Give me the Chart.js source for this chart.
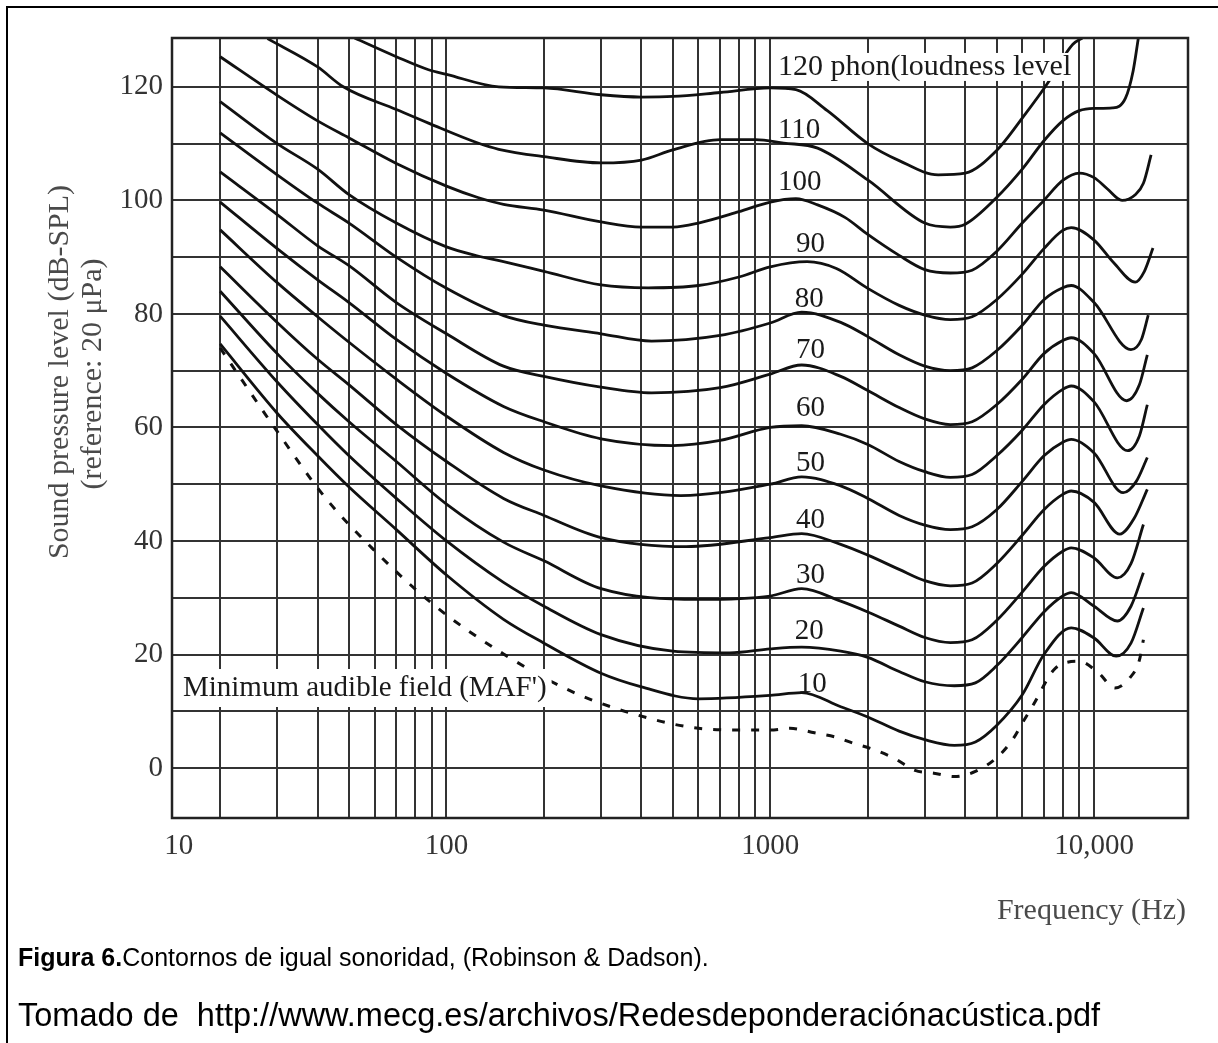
<!doctype html>
<html lang="es">
<head>
<meta charset="utf-8">
<style>
    html, body { margin: 0; padding: 0; background: #fff; }
    #wrap { position: relative; width: 1218px; height: 1043px; overflow: hidden; background: #fff; }
    #frame { position: absolute; left: 6px; top: 6px; width: 1300px; height: 1100px; border-left: 2px solid #000; border-top: 2px solid #000; }
    #myChart { position: absolute; left: 0; top: 0; }
    .cap { position: absolute; left: 18px; font-family: "Liberation Sans", Arial, sans-serif; color: #000; white-space: nowrap; line-height: 1.15; }
</style>
</head>
<body>
<div id="wrap">
    <div id="frame"></div>
    <canvas id="myChart" width="1218" height="1043"></canvas>
    <div class="cap" style="top:943px; font-size:25px"><b>Figura 6.</b>Contornos de igual sonoridad, (Robinson &amp; Dadson).</div>
    <div class="cap" style="top:997px; font-size:32.5px">Tomado de&nbsp; http://www.mecg.es/archivos/Redesdeponderaciónacústica.pdf</div>
</div>

<script src="https://cdn.jsdelivr.net/npm/chart.js"></script>
<script>
// axis limits (Hz, dB)
const X_MIN = 14.2, X_MAX = 19500;
const Y_MIN = -8.8, Y_MAX = 128.6;

// grid and tick labels ("10" sits at the left edge of the plot in the original)
const xGrid = [20, 30, 40, 50, 60, 70, 80, 90, 100, 200, 300, 400, 500, 600, 700, 800, 900, 1000,
               2000, 3000, 4000, 5000, 6000, 7000, 8000, 9000, 10000];
const xTickValues = [14.9, 100, 1000, 10000];
const xTickLabels = ['10', '100', '1000', '10,000'];
const yGrid = [0, 10, 20, 30, 40, 50, 60, 70, 80, 90, 100, 110, 120];
const yTickLabels = [0, 20, 40, 60, 80, 100, 120];

// equal loudness contours
const f120 = [52, 70, 88, 100, 145, 200, 300, 400, 500, 700, 1000, 1200, 1500, 2000, 2500, 3300, 4000, 5000, 6000, 7200, 8000, 8600, 9200];
const phon120 = [128.6, 125.3, 123, 122.2, 120, 119.8, 118.6, 118.2, 118.3, 119, 119.8, 119.5, 115.8, 110, 107, 104.5, 104.8, 108.8, 114.5, 120.7, 125, 127.5, 128.6];

const f110 = [28, 40, 48, 70, 88, 125, 145, 200, 300, 400, 500, 700, 900, 1100, 1400, 2000, 3000, 3600, 4000, 5000, 6000, 7000, 8000, 9000, 10000, 11400, 12500, 13200, 13700];
const phon110 = [128.5, 123.5, 120, 116, 113.6, 110.1, 109, 107.7, 106.6, 107.1, 108.9, 110.7, 110.7, 110.1, 109.2, 103.6, 96, 95.3, 95.8, 100.5, 105.5, 110.5, 114, 115.8, 116.2, 116.3, 118, 122.8, 128.6];

const f100 = [20, 30, 40, 50, 70, 100, 125, 150, 200, 300, 400, 500, 600, 800, 1000, 1200, 1400, 1700, 2000, 2500, 3000, 3600, 4200, 5000, 6000, 7000, 8000, 9000, 10000, 11000, 12200, 13400, 14200, 15000];
const phon100 = [125.3, 118.5, 114, 111, 106.5, 102.5, 100.5, 99.3, 98.3, 96.2, 95.3, 95.3, 96, 98, 99.7, 100.3, 99.2, 97, 94, 90.3, 87.8, 87.2, 87.7, 91, 96, 100, 103.5, 104.8, 104, 102, 100, 101, 103, 108];

const f90 = [20, 30, 40, 50, 70, 100, 125, 150, 200, 300, 420, 600, 800, 1000, 1300, 1600, 2000, 2500, 3000, 3600, 4200, 5000, 6000, 7000, 8000, 8500, 10000, 11500, 13400, 14300, 15200];
const phon90 = [117.4, 110, 105.5, 101, 96, 91.8, 90.2, 89.2, 87.5, 85.1, 84.6, 85, 86.5, 88.3, 89.2, 88, 84.5, 81.5, 79.8, 79, 79.5, 82.5, 87, 91.5, 94.7, 95.2, 93, 89, 85.6, 87.5, 91.6];

const f80 = [20, 30, 40, 50, 70, 100, 150, 200, 300, 430, 700, 1000, 1250, 1650, 2000, 2500, 3000, 3600, 4200, 5000, 6000, 7000, 8000, 8500, 10000, 13000, 14000, 14700];
const phon80 = [111.9, 104.5, 99.5, 96, 90, 84.5, 79.7, 78, 76.5, 75.2, 76.2, 78.4, 80.3, 78.5, 76, 72.8, 70.8, 70, 70.5, 73.5, 78, 82.5, 84.6, 85, 82, 73.7, 75.5, 79.8];

const f70 = [20, 30, 40, 50, 70, 100, 150, 200, 300, 430, 700, 1000, 1250, 1650, 2000, 2500, 3000, 3600, 4200, 5000, 6000, 7000, 8000, 8500, 10000, 12600, 13800, 14600];
const phon70 = [105, 97.5, 92, 88.5, 82, 76.5, 70.8, 69, 67.1, 66.1, 67, 69.4, 71, 69, 66.5, 63.5, 61.5, 60.5, 61, 64, 68.5, 73, 75.3, 75.8, 73, 64.7, 67.5, 72.8];

const f60 = [20, 30, 40, 50, 70, 100, 150, 200, 300, 500, 700, 1000, 1250, 1650, 2000, 2500, 3000, 3600, 4200, 5000, 6000, 7000, 8000, 8500, 10000, 12700, 13800, 14600];
const phon60 = [99.7, 91.5, 86, 82, 75.5, 69.5, 63.7, 61, 58, 56.8, 57.7, 60, 60.3, 58.8, 57, 54, 52.2, 51.2, 51.7, 55, 59.5, 64, 66.7, 67.3, 64.5, 55.9, 58.5, 64];

const f50 = [20, 30, 40, 50, 70, 100, 150, 200, 300, 530, 1000, 1250, 1650, 2000, 2500, 3000, 3600, 4200, 5000, 6000, 7000, 8000, 8500, 10000, 12300, 13500, 14600];
const phon50 = [94.8, 85.5, 79.5, 75, 68.5, 62, 55.6, 52.5, 49.7, 48, 50, 51.3, 49.7, 47.5, 44.5, 42.8, 42, 42.5, 45.5, 50.5, 55, 57.4, 57.9, 55.5, 48.5, 50.5, 54.7];

const f40 = [20, 30, 40, 50, 70, 100, 150, 200, 300, 550, 1000, 1250, 1650, 2000, 2500, 3000, 3600, 4200, 5000, 6000, 7000, 8000, 8500, 10000, 12000, 13300, 14600];
const phon40 = [88.3, 78.5, 72, 67.5, 60.5, 54, 47.5, 44.5, 40.6, 39, 40.6, 41.3, 39.4, 37.5, 35, 33, 32.1, 32.6, 36, 41, 45.5, 48.2, 48.8, 46.8, 41.2, 44, 49.1];

const f30 = [20, 30, 40, 50, 70, 100, 150, 200, 300, 600, 1000, 1250, 1650, 2000, 2500, 3000, 3600, 4200, 5000, 6000, 7000, 8000, 8500, 10000, 11800, 13000, 14200];
const phon30 = [84, 73, 66, 61, 54, 46.5, 39.8, 36.5, 31.6, 29.7, 30.3, 31.6, 29.4, 27.5, 25, 23, 22.1, 22.6, 26, 31, 35.5, 38.2, 38.8, 37, 33.5, 36, 42.9];

const f20 = [20, 30, 40, 50, 70, 100, 150, 200, 300, 500, 750, 1000, 1250, 1650, 2000, 2500, 3000, 3700, 4300, 5000, 6000, 7000, 8000, 8500, 10000, 11800, 13000, 14200];
const phon20 = [79.6, 68, 60.5, 55, 47.5, 40, 32.7, 28.5, 23.5, 20.6, 20.3, 21, 21.3, 20.6, 19.5, 17, 15.2, 14.5, 15, 18, 23, 27.5, 30.3, 30.9, 28.5, 25.9, 28.5, 34.4];

const f10 = [20, 30, 40, 50, 70, 100, 150, 200, 300, 400, 600, 1000, 1250, 1650, 2000, 2500, 3000, 3700, 4300, 5000, 6000, 7000, 8500, 10000, 11700, 13000, 14200];
const phon10 = [74.7, 62.5, 55, 49.5, 42, 34, 26.2, 22, 16.7, 14.3, 12.2, 12.8, 13.3, 10.8, 9, 6.5, 5, 4, 4.6, 7.5, 12.9, 20, 24.7, 22.9, 19.7, 22, 28.2];

// minimum audible field (dashed)
const fMAF = [20, 22.5, 30, 42, 59, 92, 150, 250, 420, 600, 820, 1000, 1150, 1370, 1580, 1800, 2100, 2400, 2800, 3200, 3700, 4300, 5000, 5600, 6000, 6500, 7600, 9000, 10300, 11600, 12900, 13800, 14200];
const dbMAF = [74, 69.7, 59.3, 47.8, 38.7, 28.6, 20.1, 13.2, 8.8, 7, 6.7, 6.7, 7, 6.2, 5.5, 4.4, 3.2, 1.8, -0.4, -0.9, -1.5, -0.6, 1.8, 5, 7.9, 11.2, 17.6, 18.8, 16.8, 14.1, 15.9, 19, 22.6];

// text placed on the plot, anchored in data units (Hz, dB)
const curveLabels = [
    { text: '120 phon(loudness level', f: 1056, db: 123.5, bg: 28, size: 30 },
    { text: '110', f: 1056, db: 112.4 },
    { text: '100', f: 1056, db: 103.1 },
    { text: '90', f: 1201, db: 92.2 },
    { text: '80', f: 1190, db: 82.5 },
    { text: '70', f: 1201, db: 73.5 },
    { text: '60', f: 1201, db: 63.3 },
    { text: '50', f: 1201, db: 53.6 },
    { text: '40', f: 1201, db: 43.7 },
    { text: '30', f: 1201, db: 34 },
    { text: '20', f: 1190, db: 24.1 },
    { text: '10', f: 1215, db: 14.8 },
    { text: "Minimum audible field (MAF')", f: 15.35, db: 14.1, bg: 38 }
];

const serif = '"Liberation Serif", "Times New Roman", serif';

function pairs(fs, dbs) {
    return fs.map((f, i) => ({ x: f, y: dbs[i] }));
}

const curves = [
    [f120, phon120], [f110, phon110], [f100, phon100], [f90, phon90], [f80, phon80], [f70, phon70],
    [f60, phon60], [f50, phon50], [f40, phon40], [f30, phon30], [f20, phon20], [f10, phon10]
];

const datasets = curves.map(([fs, dbs]) => ({
    data: pairs(fs, dbs),
    borderColor: '#111',
    borderWidth: 2.8,
    pointRadius: 0,
    cubicInterpolationMode: 'monotone',
    fill: false
}));
datasets.push({
    data: pairs(fMAF, dbMAF),
    borderColor: '#111',
    borderWidth: 3,
    borderDash: [8, 11],
    pointRadius: 0,
    cubicInterpolationMode: 'monotone',
    fill: false
});

// frame, labels and axis titles
const figureText = {
    id: 'figureText',
    afterDatasetsDraw(chart) {
        const { ctx, chartArea: a } = chart;
        const xs = chart.scales.x, ys = chart.scales.y;
        ctx.save();
        ctx.strokeStyle = '#222';
        ctx.lineWidth = 2.5;
        ctx.strokeRect(a.left, a.top, a.right - a.left, a.bottom - a.top);

        ctx.textBaseline = 'middle';
        ctx.textAlign = 'left';
        curveLabels.forEach(l => {
            ctx.font = (l.size || 29) + 'px ' + serif;
            const px = xs.getPixelForValue(l.f);
            const py = ys.getPixelForValue(l.db);
            if (l.bg) {
                const w = ctx.measureText(l.text).width;
                ctx.fillStyle = '#fff';
                ctx.fillRect(px - 3, py - l.bg / 2, w + 8, l.bg);
            }
            ctx.fillStyle = '#1a1a1a';
            ctx.fillText(l.text, px, py);
        });

        // y title, two rotated lines
        ctx.fillStyle = '#4a4a4a';
        ctx.font = '30px ' + serif;
        ctx.textAlign = 'center';
        ctx.save();
        ctx.translate(60, 372);
        ctx.rotate(-Math.PI / 2);
        ctx.fillText('Sound pressure level (dB-SPL)', 0, 0);
        ctx.restore();
        ctx.save();
        ctx.translate(93, 374);
        ctx.rotate(-Math.PI / 2);
        ctx.fillText('(reference: 20 \u03bcPa)', 0, 0);
        ctx.restore();

        // x title
        ctx.textAlign = 'right';
        ctx.fillText('Frequency (Hz)', 1186, 911);
        ctx.restore();
    }
};

const ctx = document.getElementById('myChart');

new Chart(ctx, {
    type: 'line',
    data: { datasets: datasets },
    options: {
        responsive: false,
        devicePixelRatio: 1,
        animation: false,
        layout: { padding: { top: 38, right: 30, bottom: 0, left: 0 } },
        plugins: {
            legend: { display: false },
            tooltip: { enabled: false }
        },
        scales: {
            x: {
                type: 'logarithmic',
                min: X_MIN,
                max: X_MAX,
                afterBuildTicks: scale => {
                    scale.ticks = [xTickValues[0], ...xGrid].map(v => ({ value: v }));
                },
                afterFit: scale => { scale.height = 225; },
                grid: {
                    color: c => (c.tick && c.tick.value === xTickValues[0]) ? 'rgba(0,0,0,0)' : '#333',
                    lineWidth: 2,
                    drawTicks: false
                },
                border: { display: false },
                ticks: {
                    autoSkip: false,
                    maxRotation: 0,
                    padding: 11,
                    color: '#333',
                    font: { family: serif, size: 29 },
                    callback: v => {
                        const i = xTickValues.indexOf(v);
                        return i >= 0 ? xTickLabels[i] : '';
                    }
                }
            },
            y: {
                min: Y_MIN,
                max: Y_MAX,
                afterBuildTicks: scale => {
                    scale.ticks = yGrid.map(v => ({ value: v }));
                },
                afterFit: scale => { scale.width = 172; },
                grid: { color: '#333', lineWidth: 2, drawTicks: false },
                border: { display: false },
                ticks: {
                    autoSkip: false,
                    padding: 9,
                    color: '#333',
                    font: { family: serif, size: 29 },
                    callback: v => yTickLabels.includes(v) ? String(v) : ''
                }
            }
        }
    },
    plugins: [figureText]
});
</script>
</body>
</html>
